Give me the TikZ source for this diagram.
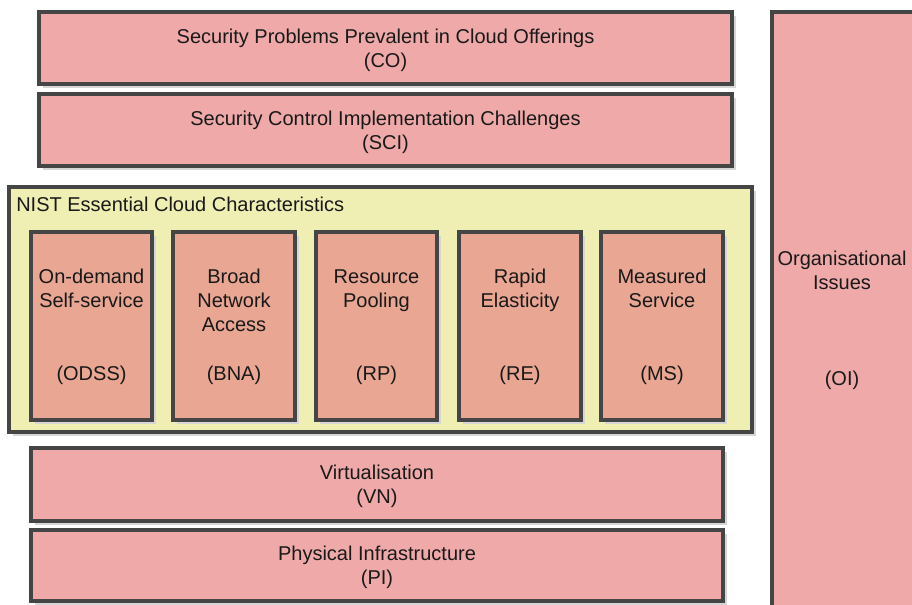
\documentclass[tikz,border=0pt]{standalone}
\usepackage{fontspec}
\setmainfont{Liberation Sans}
\usetikzlibrary{fit,shadows}

\definecolor{edge}{HTML}{454545}
\definecolor{layerpink}{HTML}{EFA9A9}
\definecolor{charsalmon}{HTML}{E9A693}
\definecolor{groupyellow}{HTML}{EFEFB4}

\tikzset{
  plate/.style={draw=edge, line width=2.3pt, inner sep=0pt,
    drop shadow={shadow xshift=3pt, shadow yshift=-3pt, fill=black!16, opacity=1}},
  layer/.style={plate, fill=layerpink},
  charbox/.style={plate, fill=charsalmon},
  group/.style={plate, fill=groupyellow},
  txt/.style={inner sep=0pt, align=center, font=\fontsize{15}{18}\selectfont, text=black!90},
  boxtext/.style={txt, yshift=-1.5pt}
}

\begin{document}
\begin{tikzpicture}[x=0.75pt, y=-0.75pt]
  \useasboundingbox (0,0) rectangle (912,604);
  \clip (0,0) rectangle (912,604);
  \fill[white] (0,0) rectangle (912,604);

  % cross-cutting column on the right
  \node[layer, fit={(772,12) (918,612)}] (oi) {};
  \node[txt] (oiname) at (842,270) {Organisational\\Issues};
  \node[txt] (oiabbr) at (842,380) {(OI)};

  % upper layers
  \node[layer, fit={(39,12) (732,84)}] (co) {};
  \node[boxtext] (cotext) at (co.center) {Security Problems Prevalent in Cloud Offerings\\(CO)};
  \node[layer, fit={(39,94) (732,166)}] (sci) {};
  \node[boxtext] (scitext) at (sci.center) {Security Control Implementation Challenges\\(SCI)};

  % group of essential characteristics
  \node[group, fit={(9,187) (752,432)}] (nist) {};
  \node[txt, anchor=west] (nisttitle) at (16,204) {NIST Essential Cloud Characteristics};

  \node[charbox, fit={(31,232) (152,420)}] (odss) {};
  \node[charbox, fit={(173,232) (295,420)}] (bna) {};
  \node[charbox, fit={(316,232) (437,420)}] (rp) {};
  \node[charbox, fit={(459,232) (581,420)}] (re) {};
  \node[charbox, fit={(601,232) (723,420)}] (ms) {};

  \node[txt, anchor=north] (odssname) at (odss.center |- 0,269) {On-demand\\Self-service};
  \node[txt, anchor=north] (bnaname)  at (bna.center  |- 0,269) {Broad\\Network\\Access};
  \node[txt, anchor=north] (rpname)   at (rp.center   |- 0,269) {Resource\\Pooling};
  \node[txt, anchor=north] (rename)   at (re.center   |- 0,269) {Rapid\\Elasticity};
  \node[txt, anchor=north] (msname)   at (ms.center   |- 0,269) {Measured\\Service};

  \node[txt] (odssabbr) at (odss.center |- 0,375) {(ODSS)};
  \node[txt] (bnaabbr)  at (bna.center  |- 0,375) {(BNA)};
  \node[txt] (rpabbr)   at (rp.center   |- 0,375) {(RP)};
  \node[txt] (reabbr)   at (re.center   |- 0,375) {(RE)};
  \node[txt] (msabbr)   at (ms.center   |- 0,375) {(MS)};

  % lower layers
  \node[layer, fit={(31,448) (723,521)}] (vn) {};
  \node[boxtext] (vntext) at (vn.center) {Virtualisation\\(VN)};
  \node[layer, fit={(31,530) (723,601)}] (pi) {};
  \node[boxtext] (pitext) at (pi.center) {Physical Infrastructure\\(PI)};
\end{tikzpicture}
\end{document}
